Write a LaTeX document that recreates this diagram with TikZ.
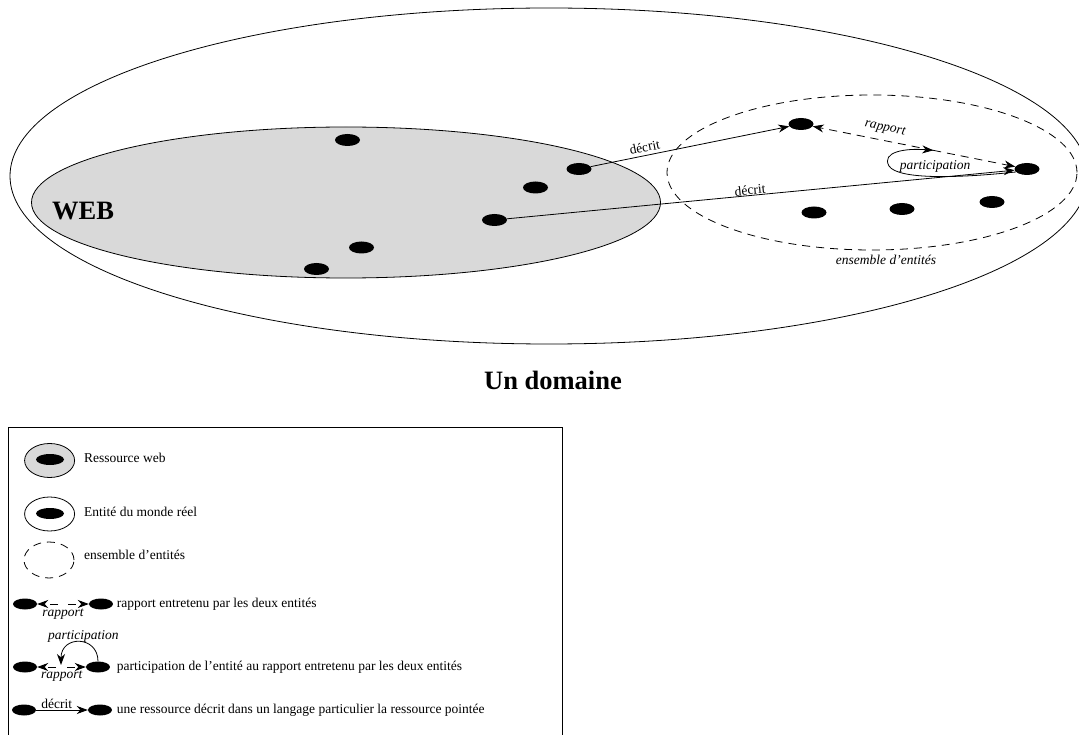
\documentclass[tikz,border=0pt]{standalone}
\usepackage{fontspec}
\setmainfont{Liberation Serif}
\usetikzlibrary{shapes.geometric,arrows.meta,calc}
\definecolor{webgray}{gray}{0.85}
\begin{document}
\begin{tikzpicture}[x=1pt,y=-1pt,
  every node/.style={font=\fontsize{13.5}{15}\selectfont},
  region/.style={ellipse, draw, line width=0.8pt, inner sep=0pt},
  dashline/.style={dash pattern=on 8pt off 6pt},
  dot/.style={ellipse, fill=black, minimum width=25pt, minimum height=12pt, inner sep=0pt},
  link/.style={line width=0.8pt, -{Stealth[length=11pt,width=8pt,inset=3.5pt]}},
  rel/.style={link, dashline},
  ital/.style={font=\fontsize{13.5}{15}\selectfont\itshape},
  big/.style={font=\fontsize{26.5}{30}\selectfont\bfseries},
  legtext/.style={anchor=base west, inner sep=0pt},
]
\useasboundingbox (0,0) rectangle (1079,735);

% the domain, the web and the set of entities
\node[region, minimum width=1078pt, minimum height=336pt] (domain) at (549,176) {};
\node[region, fill=webgray, minimum width=629pt, minimum height=151pt] (web) at (346,202.5) {};
\node[region, dashline, minimum width=410pt, minimum height=155pt] (ens) at (872,172.5) {};

\node[big] (weblabel) at (83,211) {WEB};
\node[big] (title) at (553,380) {Un domaine};
\node[ital] (enslabel) at (886,260) {ensemble d’entités};

% web resources
\node[dot] (w1) at (347.5,140) {};
\node[dot] (w2) at (579,169) {};
\node[dot] (w3) at (535.5,187.5) {};
\node[dot] (w4) at (494.5,220) {};
\node[dot] (w5) at (361.5,247.5) {};
\node[dot] (w6) at (316.5,269) {};

% real-world entities
\node[dot] (e1) at (801,124) {};
\node[dot] (e2) at (1027,169) {};
\node[dot] (e3) at (814,212.5) {};
\node[dot] (e4) at (902,209) {};
\node[dot] (e5) at (992,202) {};

% descriptions
\draw[link] (w2) -- (e1) node[pos=0.28, sloped, above=0pt] {décrit};
\draw[link] (w4) -- (e2) node[pos=0.48, sloped, above=-3pt] {décrit};

% relation between two entities and participation
\coordinate (rm) at ($(e1)!0.585!(e2)$);
\draw[rel] (rm) -- (e1) node[pos=0.42, sloped, above=3pt, ital] {rapport};
\draw[rel] (rm) -- (e2);
\draw[link] (e2.195) .. controls (960,178) and (898,180) .. (889,166)
                     .. controls (881,152) and (905,148) .. (rm);
\node[ital] (partlabel) at (935,166) {participation};

% legend
\node[draw, line width=0.8pt, inner sep=0pt, minimum width=554.5pt, minimum height=320pt,
      anchor=north west] (legend) at (7.5,427) {};

\node[region, fill=webgray, minimum width=50pt, minimum height=34pt] (k1) at (49.6,460.5) {};
\node[dot, minimum width=28pt, minimum height=11pt] (k1d) at (50,459.5) {};
\node[legtext] (t1) at (84,462.7) {Ressource web};

\node[region, minimum width=50pt, minimum height=34pt] (k2) at (49.6,514) {};
\node[dot, minimum width=28pt, minimum height=11pt] (k2d) at (50,513.5) {};
\node[legtext] (t2) at (84,516.7) {Entité du monde réel};

\node[region, dashline, minimum width=50pt, minimum height=36pt] (k3) at (49,560) {};
\node[legtext] (t3) at (84,559.5) {ensemble d’entités};

\node[dot, minimum width=24pt, minimum height=11pt] (r1) at (25,604) {};
\node[dot, minimum width=24pt, minimum height=11pt] (r2) at (101,604) {};
\coordinate (ra) at (58,604);
\coordinate (rb) at (68,604);
\draw[rel] (ra) -- (r1);
\draw[rel] (rb) -- (r2);
\node[ital] (rl) at (63,614) {rapport};
\node[legtext] (t4) at (116.7,607) {rapport entretenu par les deux entités};

\node[dot, minimum width=24pt, minimum height=11pt] (p1) at (25,667) {};
\node[dot, minimum width=24pt, minimum height=11pt] (p2) at (98,667) {};
\coordinate (pa) at (56,667);
\coordinate (pb) at (67,667);
\coordinate (pm) at (61,665);
\draw[rel] (pa) -- (p1);
\draw[rel] (pb) -- (p2);
\draw[link] (p2.north) .. controls +(0,-26) and +(0,-30) .. (pm);
\node[ital] (pl) at (83.3,636.7) {participation};
\node[ital] (prl) at (61.7,676) {rapport};
\node[legtext] (t5) at (116.7,670.5) {participation de l’entité au rapport entretenu par les deux entités};

\node[dot, minimum width=24pt, minimum height=11pt] (d1) at (24,710) {};
\node[dot, minimum width=24pt, minimum height=11pt] (d2) at (100,710) {};
\draw[link] (d1) -- (d2) node[pos=0.4, above=-2pt] {décrit};
\node[legtext] (t6) at (116.7,713.7) {une ressource décrit dans un langage particulier la ressource pointée};
\end{tikzpicture}
\end{document}
